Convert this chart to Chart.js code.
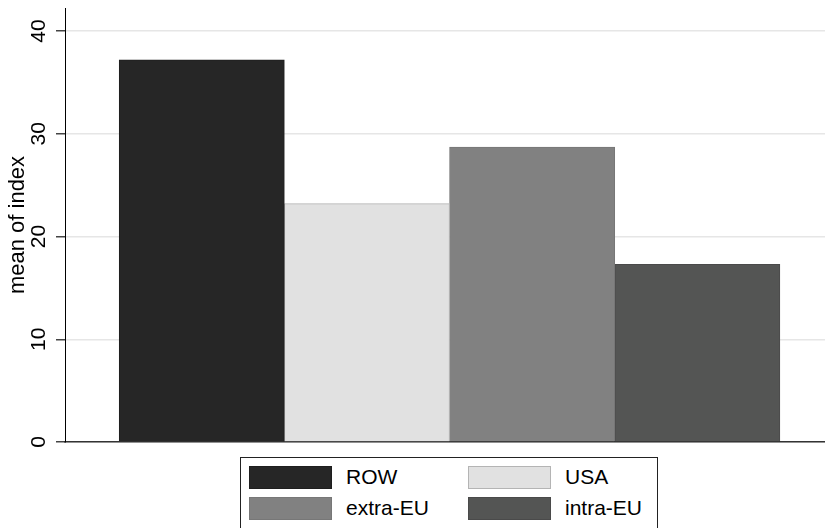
<!DOCTYPE html>
<html>
<head>
<meta charset="utf-8">
<script src="https://cdn.jsdelivr.net/npm/chart.js@4"></script>
<style>
  html, body { margin: 0; padding: 0; background: #fff; overflow: hidden; }
  #wrap { position: relative; width: 825px; height: 528px; }
  #legend {
    position: absolute; left: 240px; top: 457px; width: 418px; height: 90px;
    border: 1px solid #222; box-sizing: border-box; background: #fff;
    font-family: "Liberation Sans", Arial, sans-serif; font-size: 21px; color: #000;
  }
  .item { position: absolute; height: 24px; line-height: 24px; }
  .sw { position: absolute; left: 0; top: 0; width: 83px; height: 23px; box-sizing: border-box; border: 1px solid; }
  .lbl { position: absolute; left: 97px; top: -1px; white-space: nowrap; }
</style>
</head>
<body>
<div id="wrap">
  <canvas id="chart" width="825" height="528"></canvas>
  <div id="legend"></div>
</div>
<script>
// data
const groups = ['ROW', 'USA', 'extra-EU', 'intra-EU'];
const meanIndex = [37.2, 23.2, 28.7, 17.3];
const yTicks = [0, 10, 20, 30, 40];
const fills = ['#262626', '#e1e1e1', '#818181', '#545554'];
const edges = ['#1e1e1e', '#b4b4b4', '#777777', '#4a4a4a'];

const FONT = '"Liberation Sans", Arial, sans-serif';

// rotated tick labels + axis title, Stata style
const stataText = {
  id: 'stataText',
  afterDraw(chart) {
    const ctx = chart.ctx;
    const y = chart.scales.y;
    ctx.save();
    ctx.fillStyle = '#000';
    ctx.textAlign = 'center';
    ctx.textBaseline = 'middle';
    ctx.font = '21px ' + FONT;
    yTicks.forEach(v => {
      ctx.save();
      ctx.translate(39, y.getPixelForValue(v));
      ctx.rotate(-Math.PI / 2);
      ctx.fillText(String(v), 0, 0);
      ctx.restore();
    });
    ctx.font = '22px ' + FONT;
    ctx.translate(18, (chart.chartArea.top + chart.chartArea.bottom) / 2);
    ctx.rotate(-Math.PI / 2);
    ctx.fillText('mean of index', 0, 0);
    ctx.restore();
  }
};

const chart = new Chart(document.getElementById('chart'), {
  type: 'bar',
  data: {
    datasets: groups.map((g, i) => ({
      label: g,
      data: [{ x: i, y: meanIndex[i] }],
      backgroundColor: fills[i],
      borderColor: edges[i],
      borderWidth: 1,
      barPercentage: 1,
      categoryPercentage: 1,
      grouped: false
    }))
  },
  options: {
    responsive: false,
    animation: false,
    layout: { padding: { top: 8, right: 0, bottom: 86, left: 0 } },
    plugins: { legend: { display: false }, tooltip: { enabled: false } },
    scales: {
      x: {
        type: 'linear',
        offset: false,
        min: -0.828,
        max: 3.773,
        ticks: { display: false },
        // one tick per bar so the bar width is the full slot
        afterBuildTicks: s => { s.ticks = groups.map((g, i) => ({ value: i })); },
        grid: { display: false, drawTicks: false, offset: false },
        border: { display: true, color: '#333', width: 1.5 },
        afterFit: s => { s.height = 0; }
      },
      y: {
        min: 0,
        max: 42.24,
        ticks: { display: false },
        afterBuildTicks: s => { s.ticks = yTicks.map(v => ({ value: v })); },
        grid: { color: '#e6e6e6', lineWidth: 1.5, tickColor: '#444', tickLength: 9, drawTicks: true },
        border: { display: true, color: '#000', width: 1 },
        afterFit: s => { s.width = 65; }
      }
    }
  },
  plugins: [stataText]
});

// legend, two columns like the original
const legend = document.getElementById('legend');
const pos = [[8, 8], [227, 8], [8, 39], [227, 39]];
chart.data.datasets.forEach((ds, i) => {
  const it = document.createElement('div');
  it.className = 'item';
  it.style.left = pos[i][0] + 'px';
  it.style.top = pos[i][1] + 'px';
  it.innerHTML = `<div class="sw" style="background:${ds.backgroundColor};border-color:${ds.borderColor}"></div><span class="lbl">${ds.label}</span>`;
  legend.appendChild(it);
});
</script>
</body>
</html>
